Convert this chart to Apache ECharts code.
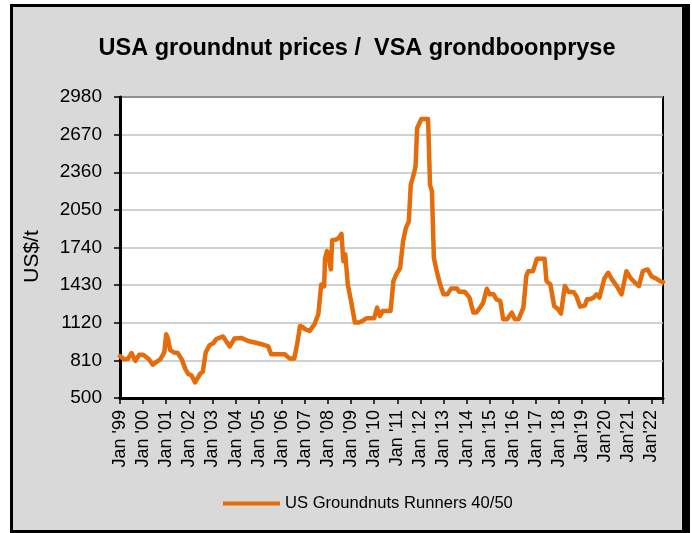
<!DOCTYPE html>
<html>
<head>
<meta charset="utf-8">
<script src="https://cdn.jsdelivr.net/npm/echarts@6/dist/echarts.min.js"></script>
<style>
  html, body { margin: 0; padding: 0; background: #fff; }
  #frame {
    position: absolute; left: 10px; top: 4px; width: 680px; height: 529px;
    box-sizing: border-box; background: #d9d9d9;
    border: 3px solid #000; border-right-width: 8px;
  }
  #chart { position: absolute; left: 0; top: 0; width: 692px; height: 533px; }
</style>
</head>
<body>
<div id="frame"></div>
<div id="chart"></div>
<script>
  // months counted from Jan 1999, prices in US$/t
  const months = [
    0, 2, 4, 6, 8, 10, 12, 15, 17, 19, 21, 23, 24, 25, 26, 28, 30, 32, 34, 35.5,
    37, 39, 40, 41.5, 43, 44.5, 46.5, 48.5, 50, 53.5, 57, 59.5, 63, 66.5, 70, 73.5,
    77, 78.5, 82, 85.5, 88, 90.5, 92, 93.5, 95, 96, 98.5, 101, 103, 104.5, 106,
    106.5, 107.5, 108.5, 109.5, 110.2, 112.5, 114, 115, 116, 117, 118.3, 120.3,
    122, 124, 126, 128, 132, 133.5, 135, 136.5, 140.5, 142, 143.5, 145.5, 147,
    148.5, 150, 151, 152.5, 153.5, 154.3, 156.5, 160, 161, 162, 163, 164.5, 166,
    168, 170, 172, 175, 176, 179, 181.5, 183.5, 185, 187, 188.5, 190.5, 192, 194,
    195.5, 197.5, 199, 201, 203.5, 205, 207, 209.5, 211, 212, 214.5, 216.5, 220.5,
    221.5, 223.5, 225.5, 227.5, 229, 231, 233, 235.5, 237, 239, 241.5, 242.5, 244,
    246, 247.5, 249, 251.5, 253.5, 255.5, 258, 260.5, 263, 265, 267.5, 269.5,
    271.5, 274, 276, 278.5, 280.5, 282
  ];
  const prices = [
    845, 820, 822, 870, 806, 856, 856, 820, 774, 798, 820, 875, 1025, 985, 897, 875, 870, 820, 738, 697,
    689, 629, 620, 697, 716, 875, 935, 952, 985, 1007, 925, 990, 995, 970, 957, 943,
    925, 861, 861, 861, 826, 826, 943, 1094, 1085, 1067, 1053, 1108, 1190, 1436, 1420,
    1650, 1710, 1650, 1560, 1800, 1806, 1825, 1853, 1627, 1683, 1436, 1272,
    1122, 1122, 1135, 1157, 1157, 1245, 1176, 1217, 1217, 1463, 1518, 1573, 1792,
    1902, 1956, 2257, 2340, 2408, 2723, 2799, 2799, 2257, 2202, 1655, 1545, 1450,
    1354, 1354, 1403, 1403, 1376, 1376, 1327, 1204, 1204, 1245, 1280, 1400, 1354, 1354,
    1313, 1299, 1149, 1149, 1204, 1149, 1149, 1245, 1504, 1545, 1545, 1647, 1647,
    1463, 1436, 1258, 1231, 1196, 1422, 1373, 1373, 1340, 1253, 1264, 1313, 1313,
    1327, 1354, 1327, 1483, 1532, 1477, 1422, 1354, 1545, 1491, 1450, 1422,
    1545, 1559, 1504, 1483, 1463, 1455
  ];
  const yearLabels = [
    "Jan '99", "Jan '00", "Jan '01", "Jan '02", "Jan '03", "Jan '04", "Jan '05", "Jan '06",
    "Jan '07", "Jan '08", "Jan '09", "Jan '10", "Jan '11", "Jan '12", "Jan '13", "Jan '14",
    "Jan '15", "Jan '16", "Jan '17", "Jan '18", "Jan'19", "Jan'20", "Jan'21", "Jan'22"
  ];
  const yMin = 500, yMax = 2980, yStep = 310;

  const FONT = "'Liberation Sans', Arial, sans-serif";
  const chart = echarts.init(document.getElementById('chart'));
  chart.setOption({
    backgroundColor: 'transparent',
    animation: false,
    title: {
      text: 'USA groundnut prices /  VSA grondboonpryse',
      left: 352, top: 32, textAlign: 'center',
      textStyle: { fontFamily: FONT, fontSize: 23.5, fontWeight: 'bold', color: '#000' }
    },
    legend: {
      left: 218, top: 490,
      icon: 'rect', itemWidth: 57, itemHeight: 4, itemGap: 10,
      textStyle: { fontFamily: FONT, fontSize: 16.6, color: '#000' }
    },
    grid: {
      left: 120, top: 97, width: 543, height: 301,
      show: true, backgroundColor: '#fff', borderColor: '#000', borderWidth: 2
    },
    xAxis: {
      type: 'value', min: 0, max: 282, interval: 12,
      axisLine: { show: true, lineStyle: { color: '#000', width: 3 } },
      axisTick: { show: true, length: 6, lineStyle: { color: '#000', width: 1.5 } },
      splitLine: { show: false },
      axisLabel: {
        rotate: 90, margin: 12, color: '#000', fontFamily: FONT, fontSize: 18,
        formatter: v => (v % 12 === 0 ? yearLabels[v / 12] || '' : '')
      }
    },
    yAxis: {
      type: 'value', min: 0, max: yMax - yMin, interval: yStep,
      name: 'US$/t', nameLocation: 'middle', nameRotate: 90, nameGap: 77,
      nameMoveOverlap: false,
      nameTextStyle: { fontFamily: FONT, fontSize: 21, color: '#000', padding: [0, 18, 0, 0] },
      axisLine: { show: true, lineStyle: { color: '#000', width: 3 } },
      axisTick: { show: true, length: 6, lineStyle: { color: '#000', width: 1.5 } },
      splitLine: { show: true, lineStyle: { color: '#c0c0c0', width: 1.5 } },
      axisLabel: {
        margin: 18, color: '#000', fontFamily: FONT, fontSize: 19,
        formatter: v => String(v + yMin)
      }
    },
    series: [{
      name: 'US Groundnuts Runners 40/50',
      type: 'line',
      symbol: 'none',
      color: '#e46c0a',
      lineStyle: { width: 4.5, color: '#e46c0a', join: 'round', cap: 'round' },
      data: months.map((m, i) => [m, prices[i] - yMin])
    }]
  });
</script>
</body>
</html>
